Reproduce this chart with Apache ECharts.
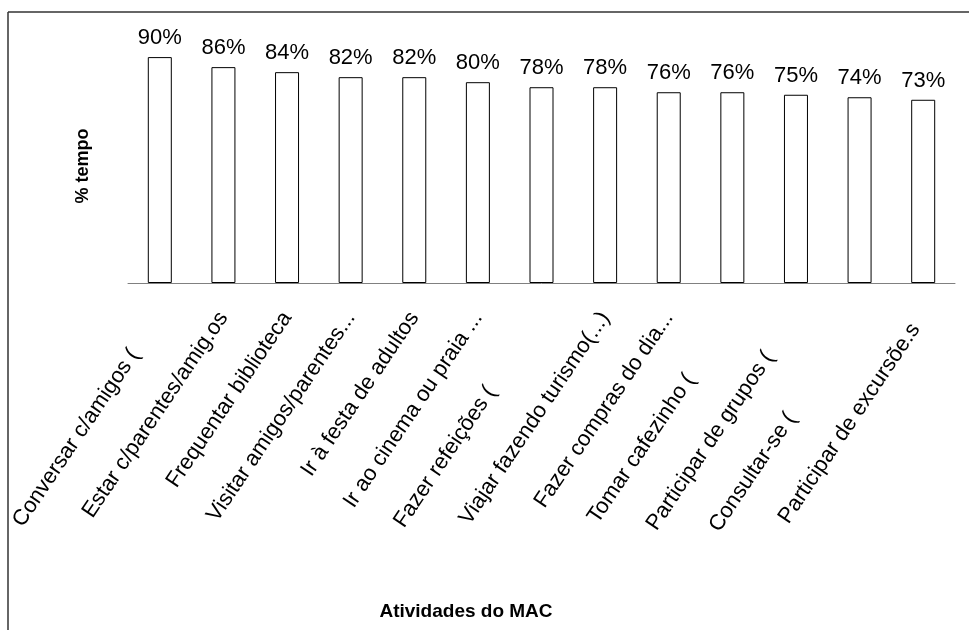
<!DOCTYPE html>
<html>
<head>
<meta charset="utf-8">
<script src="https://cdn.jsdelivr.net/npm/echarts@6/dist/echarts.min.js"></script>
<style>
  html, body { margin: 0; padding: 0; background: #fff; }
  #main { width: 969px; height: 630px; }
</style>
</head>
<body>
<div id="main"></div>
<script>
// atividades e percentuais
const atividades = [
    'Conversar c/amigos (',
    'Estar c/parentes/amig.os',
    'Frequentar biblioteca',
    'Visitar amigos/parentes...',
    'Ir à festa de adultos',
    'Ir ao cinema ou praia ...',
    'Fazer refeições (',
    'Viajar fazendo turismo(...)',
    'Fazer compras do dia...',
    'Tomar cafezinho (',
    'Participar de grupos (',
    'Consultar-se (',
    'Participar de excursõe.s'
];
const percentuais = [90, 86, 84, 82, 82, 80, 78, 78, 76, 76, 75, 74, 73];

// recuo dos rótulos cortados (texto original era mais longo)
const recuoRotulo = [45, 0, 0, 0, 0, 0, 90, 0, 0, 75, 48, 122, 14];

const tituloY = '% tempo';
const tituloX = 'Atividades do MAC';

(function() {
    const fonte = 'Liberation Sans, Arial, sans-serif';
    const chart = echarts.init(document.getElementById('main'));

    const categorias = atividades.map(function(nome, i) {
        return { value: nome, textStyle: { padding: [0, recuoRotulo[i], 0, 0] } };
    });

    const option = {
        animation: false,
        backgroundColor: '#fff',
        grid: { left: 128, right: 14, top: 32, bottom: 347 },
        xAxis: {
            type: 'category',
            data: categorias,
            axisLine: { lineStyle: { color: '#808080', width: 1 } },
            axisTick: { length: 7, lineStyle: { color: '#808080' } },
            axisLabel: {
                rotate: 56,
                margin: 31,
                interval: 0,
                color: '#000',
                fontSize: 22,
                fontFamily: fonte
            }
        },
        yAxis: {
            type: 'value',
            min: 0,
            max: 100,
            show: false
        },
        series: [{
            type: 'bar',
            data: percentuais,
            barWidth: 24,
            itemStyle: { color: '#fff', borderColor: '#000', borderWidth: 1 },
            label: {
                show: true,
                position: 'top',
                distance: 8,
                formatter: '{c}%',
                color: '#000',
                fontSize: 22,
                fontFamily: fonte
            }
        }],
        graphic: [
            {
                type: 'line',
                shape: { x1: 8, y1: 12, x2: 969, y2: 12 },
                style: { stroke: '#333', lineWidth: 1.5 }
            },
            {
                type: 'line',
                shape: { x1: 8, y1: 12, x2: 8, y2: 630 },
                style: { stroke: '#333', lineWidth: 1.5 }
            },
            {
                type: 'text',
                x: 83,
                y: 166,
                rotation: Math.PI / 2,
                style: {
                    text: tituloY,
                    fill: '#000',
                    font: 'bold 18px ' + fonte,
                    textAlign: 'center',
                    textVerticalAlign: 'middle'
                }
            },
            {
                type: 'text',
                x: 466,
                y: 612,
                style: {
                    text: tituloX,
                    fill: '#000',
                    font: 'bold 19px ' + fonte,
                    textAlign: 'center',
                    textVerticalAlign: 'middle'
                }
            }
        ]
    };

    chart.setOption(option);
})();
</script>
</body>
</html>
